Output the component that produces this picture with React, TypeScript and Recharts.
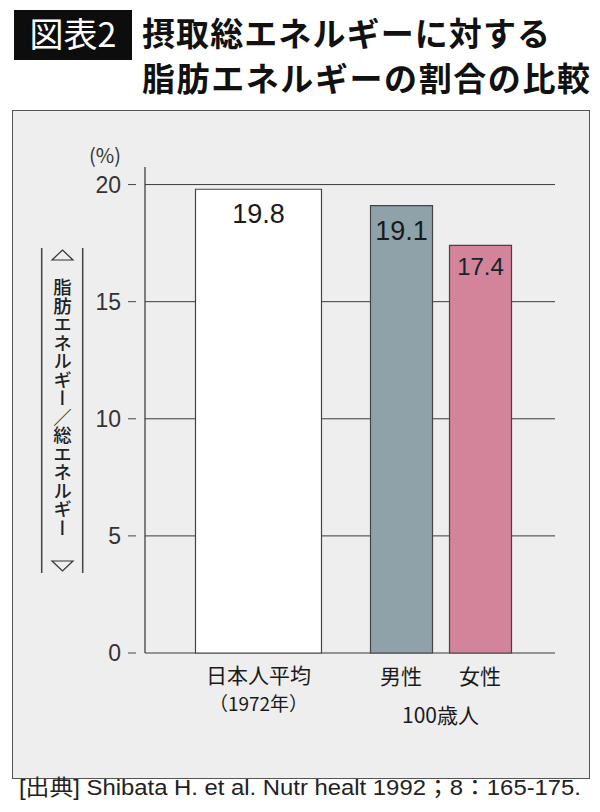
import { BarChart, Bar, XAxis, YAxis, CartesianGrid, Cell, LabelList } from "recharts"

// data
const categories = ["日本人平均", "男性", "女性"]
const subLabels = ["（1972年）", "", ""]
const averageValues = [19.8, null, null]
const centenarianValues = [null, 19.1, 17.4]
const yTicks = [0, 5, 10, 15, 20]
const groupLabel = "100歳人"

const title = ["摂取総エネルギーに対する", "脂肪エネルギーの割合の比較"]
const yLabel = "脂肪エネルギー／総エネルギー"
const source = "[出典] Shibata H. et al. Nutr healt 1992；8：165-175."

const barColors = ["#ffffff", "#8fa2a9", "#d3849a"]
const labelColors = ["#1a1a1a", "#17232b", "#3f0f20"]
const labelSizes = [27, 24, 24]
const labelDrop = [34, 30, 30]

const FONT = "'Liberation Sans', 'Noto Sans CJK JP', sans-serif"
const JP = "'Noto Sans CJK JP', sans-serif"

const data = categories.map((name, i) => ({
    name,
    sub: subLabels[i],
    average: averageValues[i],
    centenarian: centenarianValues[i],
}))

function YTick({ x, y, payload }: any) {
    return (
        <g>
            <line x1={x - 17} x2={x - 9} y1={y} y2={y} stroke="#444" strokeWidth={1} />
            <text x={x - 24} y={y + 8} textAnchor="end" fontSize={23} fill="#333" fontFamily={FONT}>
                {payload.value}
            </text>
        </g>
    )
}

function AverageTick({ x, y, payload, index }: any) {
    if (index !== 0) return null
    return (
        <g fontFamily={JP} fill="#1a1a1a" textAnchor="middle">
            <text x={x} y={y + 30} fontSize={21}>{payload.value}</text>
            <text x={x} y={y + 58} fontSize={19}>{data[index].sub}</text>
        </g>
    )
}

function CentenarianTick({ x, y, payload, index }: any) {
    if (index === 0) return null
    return (
        <text x={x} y={y + 30} fontSize={21} fontFamily={JP} fill="#1a1a1a" textAnchor="middle">
            {payload.value}
        </text>
    )
}

function ValueLabel({ x, y, width, value, index }: any) {
    if (value == null) return null
    return (
        <text
            x={x + width / 2}
            y={y + labelDrop[index]}
            textAnchor="middle"
            fontSize={labelSizes[index]}
            fill={labelColors[index]}
            fontFamily={FONT}
        >
            {value}
        </text>
    )
}

export default function App() {
    return (
        <div style={{ position: "absolute", left: 0, top: 0, width: 600, height: 812, background: "#fff", overflow: "hidden" }}>
            <div
                style={{
                    position: "absolute",
                    left: 12,
                    top: 110,
                    width: 578,
                    height: 669,
                    boxSizing: "border-box",
                    border: "1.5px solid #555",
                    background: "#efeeef",
                }}
            />
            <div style={{ position: "absolute", left: 0, top: 0 }}>
                <BarChart width={600} height={812} data={data} margin={{ top: 167, right: 45, bottom: 157, left: 0 }}>
                    <CartesianGrid vertical={false} stroke="#3a3a3a" strokeWidth={1} xAxisId="avg" horizontalValues={yTicks} />
                    <XAxis
                        xAxisId="avg"
                        dataKey="name"
                        height={1}
                        axisLine={false}
                        tickLine={false}
                        tickSize={0}
                        tickMargin={0}
                        interval={0}
                        padding={{ left: 45.5, right: -43.5 }}
                        tick={(p: any) => <AverageTick {...p} />}
                    />
                    <XAxis
                        xAxisId="cent"
                        dataKey="name"
                        height={1}
                        axisLine={false}
                        tickLine={false}
                        tickSize={0}
                        tickMargin={0}
                        interval={0}
                        padding={{ left: 137.5, right: 35.5 }}
                        tick={(p: any) => <CentenarianTick {...p} />}
                    />
                    <YAxis
                        width={145}
                        domain={[0, 20.75]}
                        ticks={yTicks}
                        interval={0}
                        axisLine={{ stroke: "#333", strokeWidth: 1.2 }}
                        tickLine={false}
                        tickSize={0}
                        tickMargin={0}
                        tick={(p: any) => <YTick {...p} />}
                    />
                    <Bar xAxisId="avg" dataKey="average" barSize={126} fill={barColors[0]} stroke="#444" strokeWidth={1.2} isAnimationActive={false}>
                        <LabelList dataKey="average" content={(p: any) => <ValueLabel {...p} />} />
                    </Bar>
                    <Bar xAxisId="cent" dataKey="centenarian" barSize={62} stroke="#444" strokeWidth={1.2} isAnimationActive={false}>
                        {data.map((d, i) => (
                            <Cell key={d.name} fill={barColors[i]} />
                        ))}
                        <LabelList dataKey="centenarian" content={(p: any) => <ValueLabel {...p} />} />
                    </Bar>
                </BarChart>
            </div>
            <svg width={600} height={812} style={{ position: "absolute", left: 0, top: 0, pointerEvents: "none" }}>
                {/* heading */}
                <rect x={14} y={10} width={118} height={50} fill="#0d0d0d" />
                <text x={73} y={47} textAnchor="middle" fontSize={34} fill="#fff" fontFamily={JP}>
                    図表2
                </text>
                <text x={142} y={46} fontSize={33} fontWeight={700} fill="#111" fontFamily={JP} textLength={408} lengthAdjust="spacing">
                    {title[0]}
                </text>
                <text x={142} y={91} fontSize={33} fontWeight={700} fill="#111" fontFamily={JP} textLength={448} lengthAdjust="spacing">
                    {title[1]}
                </text>

                {/* unit */}
                <text x={105} y={163} textAnchor="middle" fontSize={20} fill="#333" fontFamily={JP}>
                    (%)
                </text>

                {/* vertical axis caption */}
                <line x1={41.7} x2={41.7} y1={248} y2={573} stroke="#444" strokeWidth={1.5} />
                <line x1={82.7} x2={82.7} y1={248} y2={573} stroke="#444" strokeWidth={1.5} />
                <polygon points="52,260 62.5,250 73,260" fill="none" stroke="#333" strokeWidth={1.2} />
                <polygon points="52,561 62.5,571 73,561" fill="none" stroke="#333" strokeWidth={1.2} />
                <text
                    x={62.5}
                    y={278}
                    fontSize={18.5}
                    fill="#222"
                    fontFamily={JP}
                    fontWeight={500}
                    style={{ writingMode: "vertical-rl" }}
                >
                    {yLabel}
                </text>

                {/* group label under the centenarian bars */}
                <text x={440.5} y={723} textAnchor="middle" fontSize={21} fill="#1a1a1a" fontFamily={JP}>
                    {groupLabel}
                </text>

                {/* source */}
                <text x={19} y={795} fontSize={22} fill="#222" fontFamily={FONT} textLength={562} lengthAdjust="spacingAndGlyphs">
                    {source}
                </text>
            </svg>
        </div>
    )
}
